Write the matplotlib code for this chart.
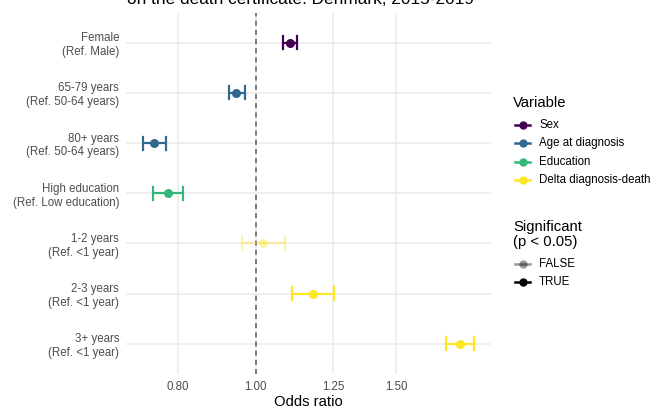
import numpy as np
import matplotlib.pyplot as plt
from matplotlib.lines import Line2D

plt.rcParams["font.family"] = ["Liberation Sans", "DejaVu Sans"]

# --- donnees ---
labels = ["Female\n(Ref. Male)",
          "65-79 years\n(Ref. 50-64 years)",
          "80+ years\n(Ref. 50-64 years)",
          "High education\n(Ref. Low education)",
          "1-2 years\n(Ref. <1 year)",
          "2-3 years\n(Ref. <1 year)",
          "3+ years\n(Ref. <1 year)"]
odds = [1.103, 0.946, 0.746, 0.776, 1.022, 1.179, 1.800]
ci_low = [1.081, 0.925, 0.722, 0.744, 0.962, 1.109, 1.731]
ci_high = [1.128, 0.970, 0.772, 0.810, 1.088, 1.254, 1.876]
variable = ["Sex", "Age at diagnosis", "Age at diagnosis", "Education",
            "Delta diagnosis-death", "Delta diagnosis-death", "Delta diagnosis-death"]
significant = [True, True, True, True, False, True, True]

var_levels = ["Sex", "Age at diagnosis", "Education", "Delta diagnosis-death"]
var_colors = {"Sex": "#440154", "Age at diagnosis": "#31688E",
              "Education": "#35B779", "Delta diagnosis-death": "#FDE725"}
x_ticks = [0.80, 1.00, 1.25, 1.50]

W, H = 651, 408
fig = plt.figure(figsize=(W / 100, H / 100), dpi=100)
ax = fig.add_axes([126 / W, 1 - 373.8 / H, (490.7 - 126) / W, (373.8 - 12.6) / H])

n = len(labels)
ypos = np.arange(n)[::-1]

for y, o, lo, hi, v, s in zip(ypos, odds, ci_low, ci_high, variable, significant):
    a = 1.0 if s else 0.4
    c = var_colors[v]
    ax.plot([lo, hi], [y, y], color=c, lw=1.6, alpha=a, zorder=3, solid_capstyle="butt")
    for xc in (lo, hi):
        ax.plot([xc, xc], [y - 0.13, y + 0.13], color=c, lw=1.6, alpha=a, zorder=3)
    ax.plot(o, y, "o", color=c, ms=6.5, mec="none", alpha=a, zorder=4)

ax.axvline(1.0, color="#666666", ls=(0, (3, 2.5)), lw=1.2, zorder=2)

ax.set_xscale("log")
lo_all, hi_all = np.log(min(ci_low)), np.log(max(ci_high))
pad = 0.05 * (hi_all - lo_all)
ax.set_xlim(np.exp(lo_all - pad), np.exp(hi_all + pad))
ax.set_ylim(-0.6, n - 1 + 0.6)
ax.set_xticks(x_ticks)
ax.set_xticklabels([f"{t:.2f}" for t in x_ticks])
ax.xaxis.set_minor_locator(plt.NullLocator())
ax.set_yticks(ypos)
ax.set_yticklabels(labels)

ax.grid(True, color="#EBEBEB", lw=1.1, zorder=0)
ax.set_axisbelow(True)
for sp in ax.spines.values():
    sp.set_visible(False)
ax.tick_params(length=0, labelsize=8.3, labelcolor="#4D4D4D", pad=5)
ax.set_xlabel("Odds ratio", fontsize=10.7, color="black", labelpad=1.5)

# titre (premiere ligne hors cadre dans l'image d'origine)
fig.text(127 / W, 1 - 4 / H, "on the death certificate. Denmark, 2015-2019",
         fontsize=12.4, ha="left", va="baseline")

# --- legendes dessinees a la main ---
def px(x, y):
    return x / W, 1 - y / H

fig.text(*px(513, 102.7), "Variable", fontsize=10.7, va="center", ha="left")
for i, v in enumerate(var_levels):
    yy = 125 + i * 18.3
    x0, y0 = px(515, yy)
    x1, _ = px(530, yy)
    fig.add_artist(Line2D([x0, x1], [y0, y0], color=var_colors[v], lw=1.8,
                          transform=fig.transFigure))
    fig.add_artist(Line2D([(x0 + x1) / 2], [y0], marker="o", ms=6, mec="none",
                          color=var_colors[v], transform=fig.transFigure))
    fig.text(*px(539, yy), v, fontsize=8.3, va="center", ha="left")

fig.text(*px(513, 234.5), "Significant\n(p < 0.05)", fontsize=10.7, va="center",
         ha="left", linespacing=1.1)
for i, (lab, a) in enumerate([("FALSE", 0.4), ("TRUE", 1.0)]):
    yy = 264.3 + i * 18
    x0, y0 = px(515, yy)
    x1, _ = px(530, yy)
    fig.add_artist(Line2D([x0, x1], [y0, y0], color="black", alpha=a, lw=1.8,
                          transform=fig.transFigure))
    fig.add_artist(Line2D([(x0 + x1) / 2], [y0], marker="o", ms=6, mec="none",
                          color="black", alpha=a, transform=fig.transFigure))
    fig.text(*px(539, yy), lab, fontsize=8.3, va="center", ha="left")

fig.savefig("out.png", dpi=100)
